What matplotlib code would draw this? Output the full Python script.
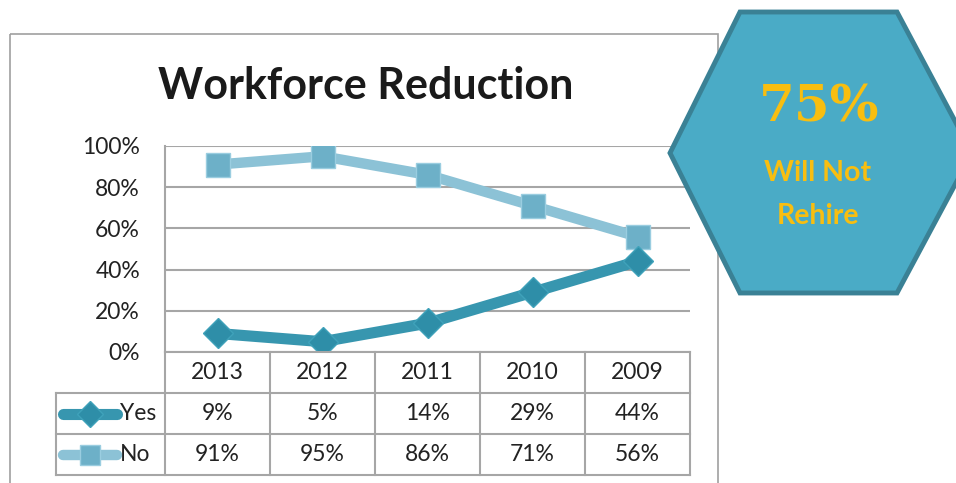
import matplotlib
matplotlib.use("Agg")
import matplotlib.pyplot as plt
from matplotlib.patches import Polygon, Rectangle

years = ["2013", "2012", "2011", "2010", "2009"]
yes_vals = [0.09, 0.05, 0.14, 0.29, 0.44]
no_vals = [0.91, 0.95, 0.86, 0.71, 0.56]
yes_labels = ["9%", "5%", "14%", "29%", "44%"]
no_labels = ["91%", "95%", "86%", "71%", "56%"]
yticks = [0, 0.2, 0.4, 0.6, 0.8, 1.0]
ytick_labels = ["0%", "20%", "40%", "60%", "80%", "100%"]

W, H = 956, 483
c_yes = "#3796AF"
c_no = "#8CC2D6"
c_grid = "#A6A6A6"
gold = "#F8BE10"
font = "Lato"
fs = 16.5

fig = plt.figure(figsize=(W / 100, H / 100), dpi=100)

# plot area in pixels
px0, px1, py0, py1 = 165, 690, 146, 352
ax = fig.add_axes([px0 / W, 1 - py1 / H, (px1 - px0) / W, (py1 - py0) / H], zorder=2)
ax.set_xlim(-0.5, len(years) - 0.5)
ax.set_ylim(0, 1)
ax.patch.set_alpha(0)
for y in yticks:
    ax.axhline(y, color=c_grid, lw=1.5, zorder=1)
for s in ["top", "right", "bottom"]:
    ax.spines[s].set_visible(False)
ax.spines["left"].set_color(c_grid)
ax.spines["left"].set_linewidth(1.5)
ax.set_yticks(yticks)
ax.set_yticklabels(ytick_labels, fontsize=fs, fontfamily=font, color="#222222")
ax.tick_params(axis="y", length=0, pad=18)
ax.set_xticks([])

x = range(len(years))
ax.plot(x, no_vals, color=c_no, lw=7.5, marker="s", ms=17, mfc="#6DB0C8",
        mec="#9ACDE0", mew=1, zorder=3, solid_capstyle="round")
ax.plot(x, yes_vals, color=c_yes, lw=8, marker="D", ms=15, mfc="#2E8EA8",
        mec="#3FA2BA", mew=1, zorder=4, solid_capstyle="round")

# overlay in pixel coordinates
ov = fig.add_axes([0, 0, 1, 1], zorder=3)
ov.set_xlim(0, W)
ov.set_ylim(H, 0)
ov.axis("off")
ov.patch.set_alpha(0)

# outer chart frame
ov.add_patch(Rectangle((10, 34), 708, 470, fill=False, ec="#A0A0A0", lw=1.2, clip_on=False))
ov.text(366, 86, "Workforce Reduction", ha="center", va="center", fontsize=31,
        fontweight="bold", fontfamily=font, color="#1A1A1A")

# data table
col_w = (px1 - px0) / len(years)
rows = [352, 393, 434, 475]
tl = dict(color=c_grid, lw=1.5)
ov.plot([px0, px1], [rows[0], rows[0]], **tl)
for r in rows[1:]:
    ov.plot([56, px1], [r, r], **tl)
ov.plot([56, 56], [rows[1], rows[3]], **tl)
for i in range(len(years) + 1):
    xc = px0 + i * col_w
    ov.plot([xc, xc], [rows[0], rows[3]], **tl)
for i, yr in enumerate(years):
    xc = px0 + (i + 0.5) * col_w
    ov.text(xc, (rows[0] + rows[1]) / 2, yr, ha="center", va="center", fontsize=fs, fontfamily=font, color="#222222")
    ov.text(xc, (rows[1] + rows[2]) / 2, yes_labels[i], ha="center", va="center", fontsize=fs, fontfamily=font, color="#222222")
    ov.text(xc, (rows[2] + rows[3]) / 2, no_labels[i], ha="center", va="center", fontsize=fs, fontfamily=font, color="#222222")

ry = (rows[1] + rows[2]) / 2
ov.plot([63, 117], [ry, ry], color=c_yes, lw=8, solid_capstyle="round")
ov.plot([90], [ry], marker="D", ms=13, mfc="#2E8EA8", mec="#3FA2BA")
ov.text(120, ry, "Yes", ha="left", va="center", fontsize=fs, fontfamily=font, color="#222222")
ry = (rows[2] + rows[3]) / 2
ov.plot([63, 117], [ry, ry], color=c_no, lw=7.5, solid_capstyle="round")
ov.plot([90], [ry], marker="s", ms=15, mfc="#6DB0C8", mec="#9ACDE0")
ov.text(120, ry, "No", ha="left", va="center", fontsize=fs, fontfamily=font, color="#222222")

# hexagon callout
hexagon = Polygon([(740, 12), (897, 12), (972, 153), (897, 293), (740, 293), (670, 153)],
                  closed=True, fc="#4AABC6", ec="#3A8195", lw=3.5, clip_on=False, zorder=5)
ov.add_patch(hexagon)
ov.text(819, 108, "75%", ha="center", va="center", fontsize=37, fontweight="bold",
        fontfamily="DejaVu Serif", color=gold, zorder=6)
ov.text(818, 173, "Will Not", ha="center", va="center", fontsize=20.5, fontweight="bold",
        fontfamily=font, color=gold, zorder=6)
ov.text(818, 216, "Rehire", ha="center", va="center", fontsize=20.5, fontweight="bold",
        fontfamily=font, color=gold, zorder=6)

fig.savefig("out.png", dpi=100)
